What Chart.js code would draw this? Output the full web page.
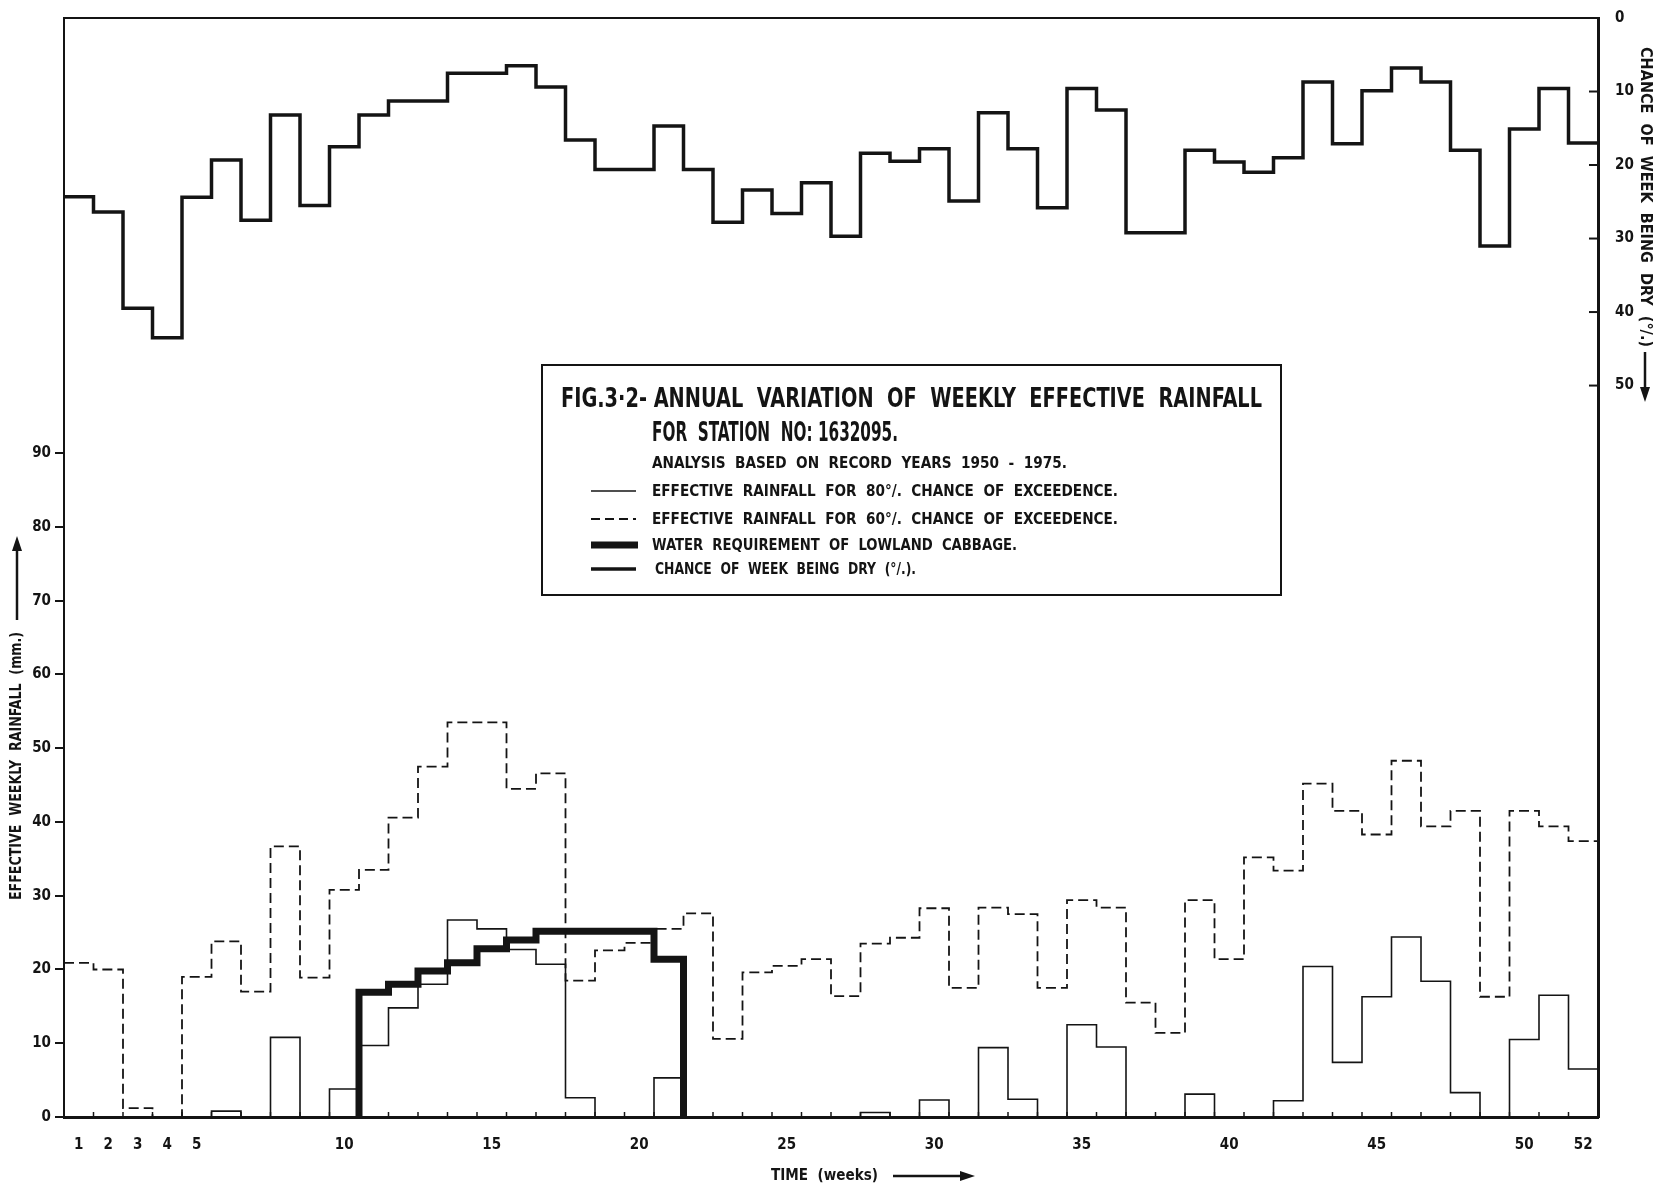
<!DOCTYPE html>
<html>
<head>
<meta charset="utf-8">
<script src="https://cdn.jsdelivr.net/npm/chart.js@4.4.1/dist/chart.umd.min.js"></script>
<style>
  html, body { margin: 0; padding: 0; background: #fff; }
  canvas { display: block; }
</style>
</head>
<body>
<canvas id="chart" width="1667" height="1186"></canvas>
<script>
'use strict';

// weekly values, week 1 .. 52
const dryChance = [24.3, 26.4, 39.5, 43.5, 24.4, 19.3, 27.5, 13.2, 25.5, 17.5,
    13.2, 11.3, 11.3, 7.5, 7.5, 6.5, 9.4, 16.6, 20.6, 20.6,
    14.7, 20.6, 27.8, 23.4, 26.6, 22.4, 29.7, 18.4, 19.5, 17.8,
    24.9, 12.9, 17.8, 25.8, 9.6, 12.5, 29.2, 29.2, 18.0, 19.6,
    21.0, 19.0, 8.7, 17.1, 9.9, 6.8, 8.7, 18.0, 31.0, 15.1,
    9.6, 17.0];

const rain60 = [20.9, 20.0, 1.2, 0, 19.0, 23.8, 17.0, 36.7, 18.9, 30.8,
    33.5, 40.6, 47.5, 53.5, 53.5, 44.5, 46.6, 18.5, 22.6, 23.6,
    25.5, 27.6, 10.6, 19.6, 20.5, 21.4, 16.4, 23.5, 24.3, 28.3,
    17.5, 28.4, 27.5, 17.5, 29.4, 28.4, 15.5, 11.4, 29.4, 21.4,
    35.2, 33.4, 45.2, 41.5, 38.3, 48.3, 39.4, 41.5, 16.3, 41.5,
    39.4, 37.4];

const rain80 = [0, 0, 0, 0, 0, 0.8, 0, 10.8, 0, 3.8,
    9.7, 14.8, 18.0, 26.7, 25.5, 22.7, 20.7, 2.6, 0, 0,
    5.3, 0, 0, 0, 0, 0, 0, 0.6, 0, 2.3,
    0, 9.4, 2.4, 0, 12.5, 9.5, 0, 0, 3.1, 0,
    0, 2.2, 20.4, 7.4, 16.3, 24.4, 18.4, 3.3, 0, 10.5,
    16.5, 6.5];

// lowland cabbage water requirement, weeks 11 .. 21
const cabbageStartWeek = 11;
const cabbageNeed = [16.9, 18.0, 19.8, 20.9, 22.8, 24.0, 25.2, 25.2, 25.2, 25.2, 21.4];

const labelWeeks = [1, 2, 3, 4, 5, 10, 15, 20, 25, 30, 35, 40, 45, 50, 52];
const rainTicks = [0, 10, 20, 30, 40, 50, 60, 70, 80, 90];
const dryTicks = [0, 10, 20, 30, 40, 50];

const ink = '#141414';
const narrow = '"Liberation Sans Narrow", "DejaVu Sans Condensed", "Open Sans", sans-serif';

// week n covers [n-1, n]
function stepPoints(values, startWeek) {
    const pts = values.map((v, i) => ({ x: startWeek - 1 + i, y: v }));
    pts.push({ x: startWeek - 1 + values.length, y: values[values.length - 1] });
    return pts;
}

const cabbagePoints = [{ x: cabbageStartWeek - 1, y: 0 }]
    .concat(stepPoints(cabbageNeed, cabbageStartWeek));
cabbagePoints.push({ x: cabbageStartWeek - 1 + cabbageNeed.length, y: 0 });

// squeeze / stretch text to a width
function fitText(ctx, text, x, y, w) {
    const m = ctx.measureText(text).width;
    ctx.save();
    ctx.translate(x, y);
    ctx.scale(w / m, 1);
    ctx.textAlign = 'left';
    ctx.fillText(text, 0, 0);
    ctx.restore();
}

function arrowHead(ctx, x, y, dx, dy) {
    // tip at (x,y), pointing along (dx,dy)
    const len = 15, half = 5;
    const px = -dy, py = dx;
    ctx.beginPath();
    ctx.moveTo(x, y);
    ctx.lineTo(x - dx * len + px * half, y - dy * len + py * half);
    ctx.lineTo(x - dx * len - px * half, y - dy * len - py * half);
    ctx.closePath();
    ctx.fill();
}

const decor = {
    id: 'decor',
    afterDraw(chart) {
        const ctx = chart.ctx;
        const a = chart.chartArea;
        const xs = chart.scales.x, y2 = chart.scales.y2;
        ctx.save();
        ctx.strokeStyle = ink;
        ctx.fillStyle = ink;

        // top of the frame
        ctx.lineWidth = 2;
        ctx.beginPath();
        ctx.moveTo(a.left, a.top);
        ctx.lineTo(a.right, a.top);
        ctx.stroke();

        // week boundary marks on the time axis
        ctx.lineWidth = 1.5;
        for (let w = 1; w < 52; w++) {
            const px = xs.getPixelForValue(w);
            ctx.beginPath();
            ctx.moveTo(px, a.bottom);
            ctx.lineTo(px, a.bottom - 5);
            ctx.stroke();
        }

        // inward ticks on the dry-week axis
        ctx.lineWidth = 2;
        dryTicks.forEach(t => {
            const py = y2.getPixelForValue(t);
            ctx.beginPath();
            ctx.moveTo(a.right, py);
            ctx.lineTo(a.right - 9, py);
            ctx.stroke();
        });

        // legend box
        ctx.lineWidth = 2;
        ctx.strokeRect(542, 365, 739, 230);
        ctx.textBaseline = 'alphabetic';
        ctx.font = 'bold 27px ' + narrow;
        fitText(ctx, 'FIG.3·2- ANNUAL  VARIATION  OF  WEEKLY  EFFECTIVE  RAINFALL', 561, 407, 701);
        fitText(ctx, 'FOR  STATION  NO: 1632095.', 652, 441, 246);
        ctx.font = 'bold 15px ' + narrow;
        fitText(ctx, 'ANALYSIS  BASED  ON  RECORD  YEARS  1950  -  1975.', 652, 468, 415);
        fitText(ctx, 'EFFECTIVE  RAINFALL  FOR  80°/.  CHANCE  OF  EXCEEDENCE.', 652, 496, 466);
        fitText(ctx, 'EFFECTIVE  RAINFALL  FOR  60°/.  CHANCE  OF  EXCEEDENCE.', 652, 524, 466);
        fitText(ctx, 'WATER  REQUIREMENT  OF  LOWLAND  CABBAGE.', 652, 550, 365);
        fitText(ctx, 'CHANCE  OF  WEEK  BEING  DRY  (°/.).', 655, 574, 261);

        const sample = (y, width, dash, x1) => {
            ctx.lineWidth = width;
            ctx.setLineDash(dash);
            ctx.beginPath();
            ctx.moveTo(591, y);
            ctx.lineTo(x1, y);
            ctx.stroke();
            ctx.setLineDash([]);
        };
        sample(491, 1.5, [], 636);
        sample(519, 1.8, [9, 5], 636);
        sample(545, 7, [], 638);
        sample(569, 3.5, [], 636);

        // axis titles with arrows
        ctx.font = 'bold 16px ' + narrow;
        ctx.textBaseline = 'middle';
        ctx.save();
        ctx.translate(17, 900);
        ctx.rotate(-Math.PI / 2);
        fitText(ctx, 'EFFECTIVE  WEEKLY  RAINFALL  (mm.)', 0, 0, 268);
        ctx.restore();
        ctx.lineWidth = 2.5;
        ctx.beginPath();
        ctx.moveTo(17, 620);
        ctx.lineTo(17, 548);
        ctx.stroke();
        arrowHead(ctx, 17, 536, 0, -1);

        ctx.save();
        ctx.translate(1645, 47);
        ctx.rotate(Math.PI / 2);
        fitText(ctx, 'CHANCE  OF  WEEK  BEING  DRY  (°/.)', 0, 0, 300);
        ctx.restore();
        ctx.beginPath();
        ctx.moveTo(1645, 352);
        ctx.lineTo(1645, 390);
        ctx.stroke();
        arrowHead(ctx, 1645, 402, 0, 1);

        ctx.font = 'bold 15px ' + narrow;
        fitText(ctx, 'TIME  (weeks)', 771, 1176, 107);
        ctx.beginPath();
        ctx.moveTo(893, 1176);
        ctx.lineTo(962, 1176);
        ctx.stroke();
        arrowHead(ctx, 975, 1176, 1, 0);

        ctx.restore();
    }
};

const tickFont = { family: narrow, size: 15, weight: 'bold' };

new Chart(document.getElementById('chart'), {
    type: 'line',
    data: {
        datasets: [
            {
                label: 'WATER REQUIREMENT OF LOWLAND CABBAGE',
                data: cabbagePoints,
                yAxisID: 'y',
                borderColor: ink,
                borderWidth: 7,
                stepped: 'before',
                borderJoinStyle: 'miter',
                order: 4
            },
            {
                label: 'EFFECTIVE RAINFALL FOR 60% CHANCE OF EXCEEDENCE',
                data: stepPoints(rain60, 1),
                yAxisID: 'y',
                borderColor: ink,
                borderWidth: 1.8,
                borderDash: [10, 5],
                stepped: 'before',
                order: 3
            },
            {
                label: 'EFFECTIVE RAINFALL FOR 80% CHANCE OF EXCEEDENCE',
                data: stepPoints(rain80, 1),
                yAxisID: 'y',
                borderColor: ink,
                borderWidth: 1.6,
                stepped: 'before',
                order: 2
            },
            {
                label: 'CHANCE OF WEEK BEING DRY (%)',
                data: stepPoints(dryChance, 1),
                yAxisID: 'y2',
                borderColor: ink,
                borderWidth: 3.5,
                stepped: 'before',
                borderJoinStyle: 'miter',
                order: 1
            }
        ]
    },
    options: {
        responsive: false,
        animation: false,
        devicePixelRatio: 1,
        layout: { padding: { top: 11, left: 0, right: 0, bottom: 0 } },
        elements: { point: { radius: 0 } },
        plugins: { legend: { display: false }, tooltip: { enabled: false } },
        scales: {
            x: {
                type: 'linear',
                min: 0,
                max: 52,
                bounds: 'data',
                grid: { display: false },
                border: { display: true, color: ink, width: 3 },
                afterBuildTicks: s => { s.ticks = labelWeeks.map(w => ({ value: w - 0.5 })); },
                afterFit: s => { s.height = 69; },
                ticks: {
                    color: ink,
                    font: tickFont,
                    padding: 11,
                    maxRotation: 0,
                    autoSkip: false,
                    callback: v => String(Math.round(v + 0.5))
                }
            },
            y: {
                position: 'left',
                min: 0,
                max: 149,
                bounds: 'data',
                grid: { drawOnChartArea: false, drawTicks: true, tickLength: 9, lineWidth: 2, color: ink },
                border: { display: true, color: ink, width: 2 },
                afterBuildTicks: s => { s.ticks = rainTicks.map(v => ({ value: v })); },
                afterFit: s => { s.width = 64; },
                ticks: { color: ink, font: tickFont, padding: 4 }
            },
            y2: {
                position: 'right',
                min: 0,
                max: 149.5,
                reverse: true,
                bounds: 'data',
                grid: { display: false },
                border: { display: true, color: ink, width: 3 },
                afterBuildTicks: s => { s.ticks = dryTicks.map(v => ({ value: v })); },
                afterFit: s => { s.width = 69; },
                ticks: { color: ink, font: tickFont, padding: 9 }
            }
        }
    },
    plugins: [decor]
});
</script>
</body>
</html>
